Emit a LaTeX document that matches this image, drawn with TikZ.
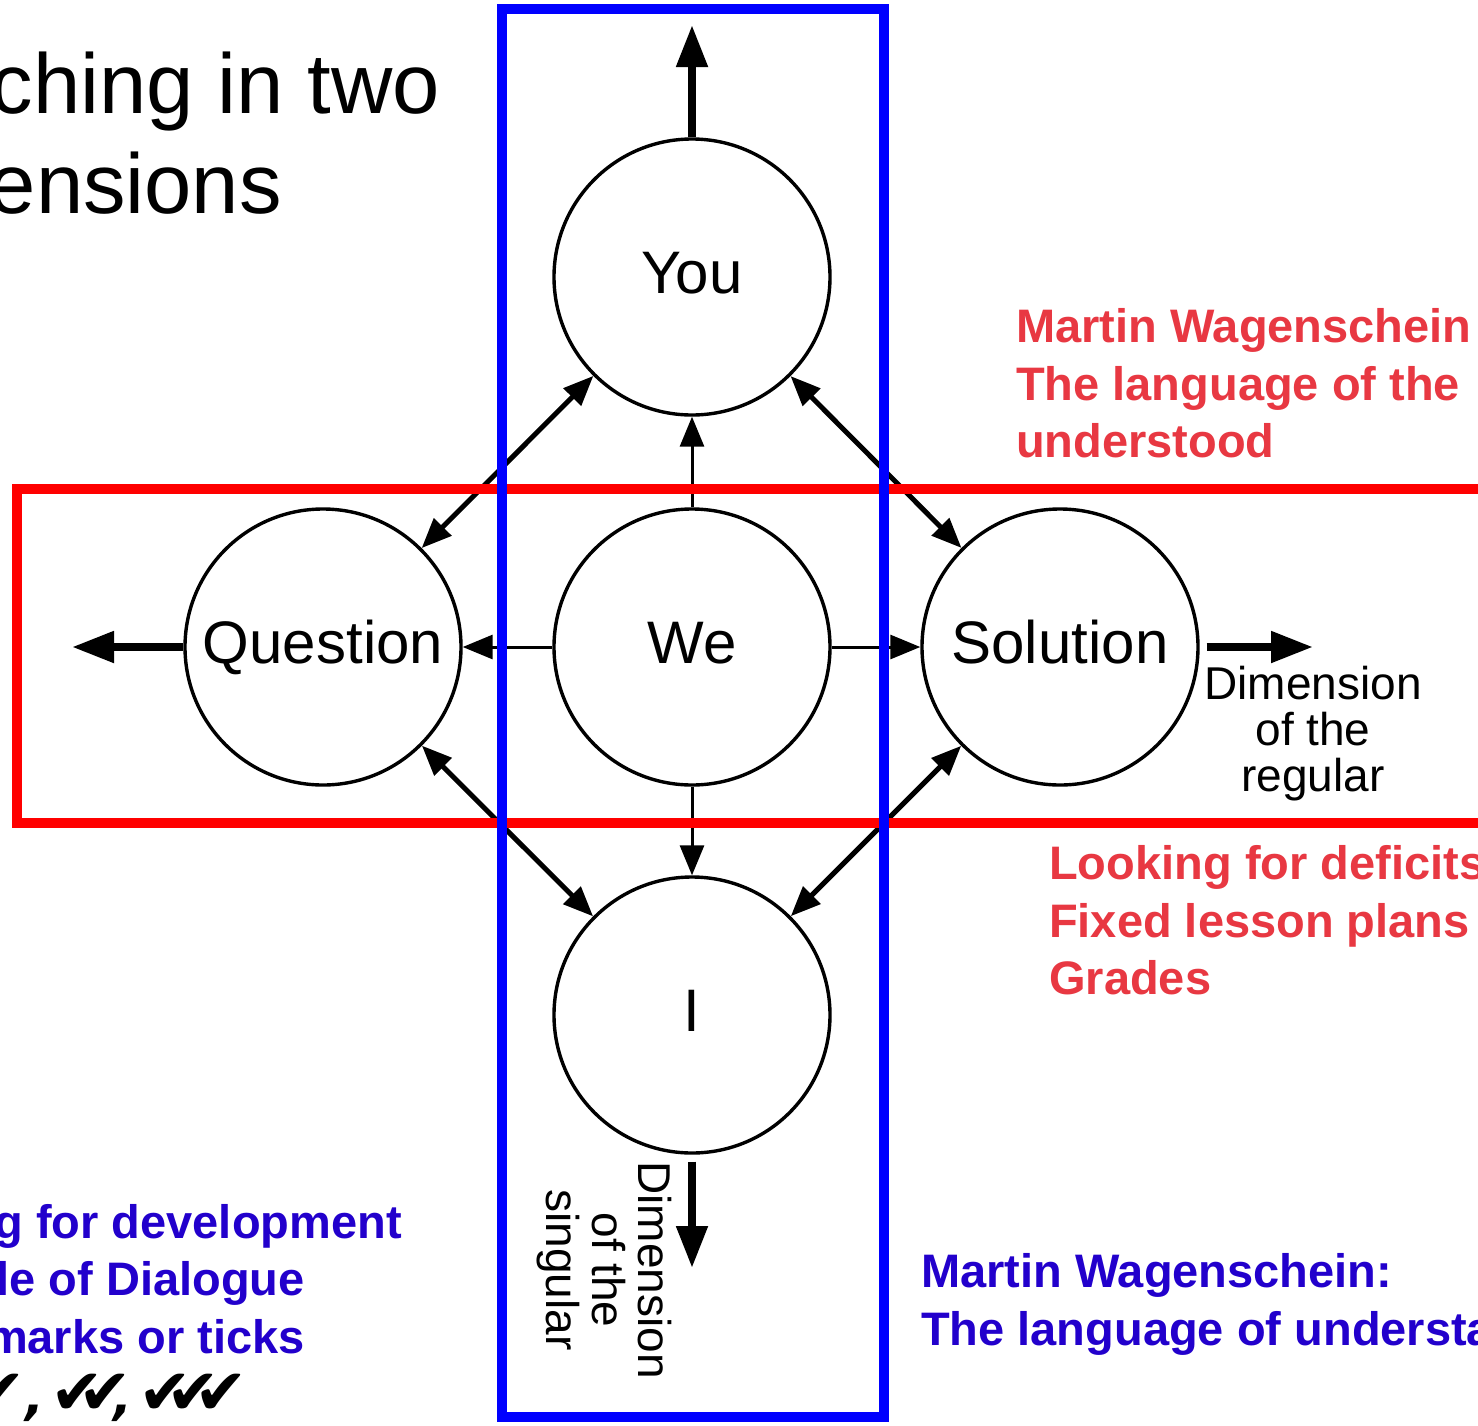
\documentclass[tikz,border=0pt]{standalone}
\usepackage{fontspec}
\setmainfont{Liberation Sans}
\newfontfamily\symfont{DejaVu Sans}
\usetikzlibrary{arrows.meta}
\definecolor{boxred}{RGB}{255,0,0}
\definecolor{boxblue}{RGB}{0,0,255}
\definecolor{txtred}{RGB}{232,56,66}
\definecolor{txtblue}{RGB}{34,0,204}
\newcommand{\tickcomma}{{\fontsize{50}{50}\selectfont,}}
\begin{document}
\begin{tikzpicture}[x=1pt,y=-1pt,
  circ/.style={circle,draw,line width=3.4pt,minimum size=276pt,inner sep=0pt,
    font=\fontsize{60}{60}\selectfont,text height=44pt,text depth=12pt},
  thickarr/.style={line width=8pt,-{Triangle[length=42pt,width=30pt]}},
  diagarr/.style={line width=5pt,{Triangle[length=30pt,width=24pt]}-{Triangle[length=30pt,width=24pt]}},
  thinarr/.style={line width=3pt,-{Triangle[length=30pt,width=24pt]}},
  redtxt/.style={inner sep=0pt,anchor=base west,text=txtred,font=\bfseries\fontsize{47}{47}\selectfont},
  bluetxt/.style={inner sep=0pt,anchor=base west,text=txtblue,font=\bfseries\fontsize{47}{47}\selectfont},
  bluetxtr/.style={bluetxt,anchor=base east},
  titletxt/.style={inner sep=0pt,anchor=base east,font=\fontsize{85}{85}\selectfont},
  dimtxt/.style={inner sep=0pt,align=center,font=\fontsize{46}{46}\selectfont}
]
\fill[white] (0,0) rectangle (1478,1425);
\useasboundingbox (0,0) rectangle (1478,1425);
\clip (0,0) rectangle (1478,1425);

% circles
\node[circ] (You) at (692,277) {You};
\node[circ] (We) at (692,647) {We};
\node[circ] (Question) at (323,647) {Question};
\node[circ] (Solution) at (1060,647) {Solution};
\node[circ] (I) at (692,1015) {I};

% free ends
\coordinate (topend) at (692,25);
\coordinate (leftend) at (72,647);
\coordinate (rightend) at (1313,647);
\coordinate (botend) at (692,1268);

% outer arrows
\draw[thickarr] (You.north) -- (topend);
\draw[thickarr] (Question.west) -- (leftend);
\draw[thickarr] ([xshift=7pt]Solution.east) -- (rightend);
\draw[thickarr] ([yshift=-7pt]I.south) -- (botend);

% diagonals
\draw[diagarr] (Question) -- (You);
\draw[diagarr] (Solution) -- (You);
\draw[diagarr] (Question) -- (I);
\draw[diagarr] (Solution) -- (I);

% from We
\draw[thinarr] (We) -- (You);
\draw[thinarr] (We) -- (Question);
\draw[thinarr] (We) -- (Solution);
\draw[thinarr] (We) -- (I);

% dimension labels
\node[dimtxt] (dimreg) at (1313,734) {Dimension\\of the\\regular};
\node[dimtxt,rotate=-90] (dimsing) at (604,1270) {Dimension\\of the\\singular};

% title
\node[titletxt] (t1) at (440,113) {ching in two};
\node[titletxt] (t2) at (282,213) {ensions};

% red texts
\node[redtxt] (r1) at (1016,342) {Martin Wagenschein};
\node[redtxt] (r2) at (1016,400) {The language of the};
\node[redtxt] (r3) at (1016,457) {understood};
\node[redtxt] (d1) at (1049,879) {Looking for deficits};
\node[redtxt] (d2) at (1049,937) {Fixed lesson plans};
\node[redtxt] (d3) at (1049,994) {Grades};

% blue texts
\node[bluetxt] (b1) at (921,1287) {Martin Wagenschein:};
\node[bluetxt] (b2) at (921,1345) {The language of understa};
\node[bluetxtr] (l1) at (402,1238) {g for development};
\node[bluetxtr] (l2) at (305,1295) {le of Dialogue};
\node[bluetxtr] (l3) at (305,1353) {marks or ticks};
\node[inner sep=0pt,anchor=base east,font=\symfont\bfseries\itshape\fontsize{64}{64}\selectfont] (ticks) at (248,1414)
  {✔\tickcomma\kern6pt✔\kern-26pt✔\kern-18pt\tickcomma\kern6pt✔\kern-26pt✔\kern-26pt✔};

% frames
\draw[boxred,line width=10pt] (17,489) rectangle (1530,823);
\draw[boxblue,line width=10pt] (502,9) rectangle (884,1417);
\end{tikzpicture}
\end{document}
